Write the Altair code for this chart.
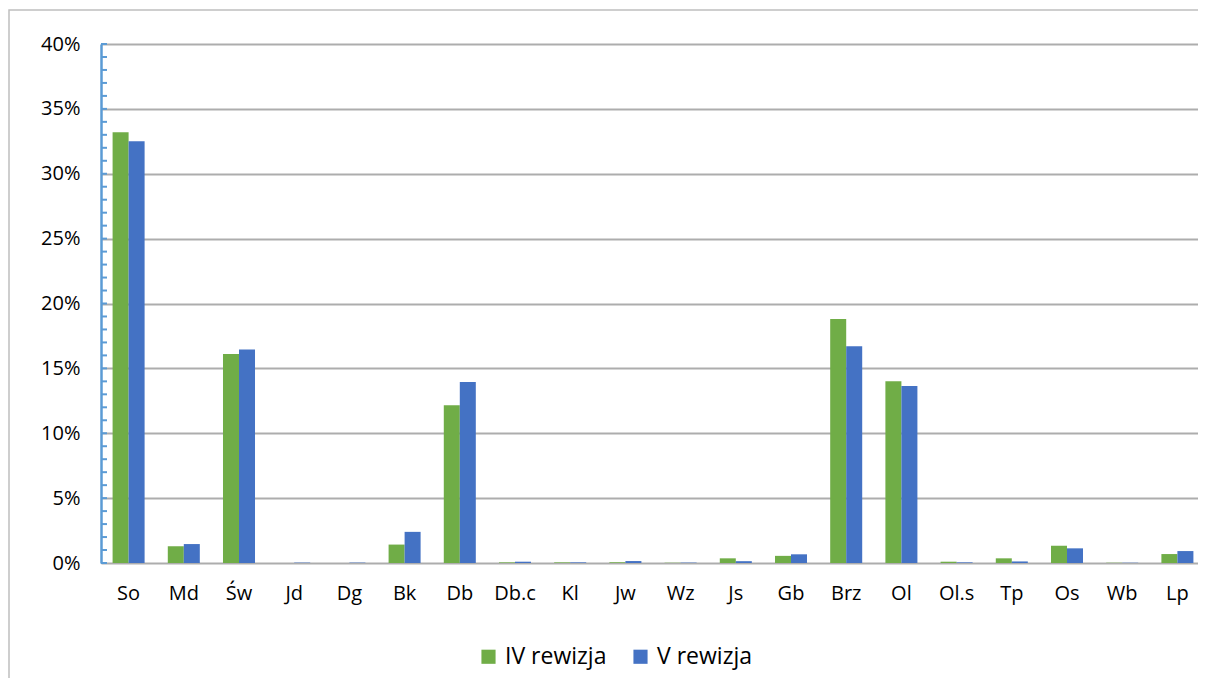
import altair as alt
import pandas as pd

categories = ["So", "Md", "Św", "Jd", "Dg", "Bk", "Db", "Db.c", "Kl", "Jw",
              "Wz", "Js", "Gb", "Brz", "Ol", "Ol.s", "Tp", "Os", "Wb", "Lp"]
series_names = ["IV rewizja", "V rewizja"]
iv_values = [33.2, 1.3, 16.1, 0.0, 0.0, 1.42, 12.15, 0.05, 0.05, 0.05,
             0.02, 0.36, 0.55, 18.8, 14.0, 0.1, 0.36, 1.33, 0.02, 0.69]
v_values = [32.5, 1.46, 16.45, 0.03, 0.03, 2.4, 13.95, 0.1, 0.05, 0.15,
            0.03, 0.14, 0.67, 16.7, 13.65, 0.05, 0.12, 1.13, 0.02, 0.92]
y_ticks = [0, 0.05, 0.10, 0.15, 0.20, 0.25, 0.30, 0.35, 0.40]
minor_ticks = [i / 100 for i in range(0, 41)]

rows = []
for c, a, b in zip(categories, iv_values, v_values):
    rows.append({"cat": c, "series": series_names[0], "value": a / 100})
    rows.append({"cat": c, "series": series_names[1], "value": b / 100})
df = pd.DataFrame(rows)

FONT = "Open Sans"
GREEN = "#70AD47"
BLUE = "#4472C4"
AXIS_BLUE = "#5B9BD5"

yscale = alt.Scale(domain=[0, 0.4], nice=False)

border = alt.Chart(pd.DataFrame({"a": [0]})).mark_rect(
    fill=None, stroke="#BFBFBF", strokeWidth=1.5
).encode(
    x=alt.value(-92), x2=alt.value(1160), y=alt.value(-34), y2=alt.value(720)
)

bars = alt.Chart(df).mark_bar().encode(
    x=alt.X("cat:N", sort=categories, title=None,
            scale=alt.Scale(paddingInner=0.42, paddingOuter=0.21,
                            range=[0, 1104]),
            axis=alt.Axis(labelAngle=0, labelFontSize=20, labelFont=FONT,
                          labelColor="#000000", domain=False, ticks=False,
                          labelPadding=20, grid=False)),
    xOffset=alt.XOffset("series:N", sort=series_names),
    y=alt.Y("value:Q", scale=yscale, title=None,
            axis=alt.Axis(values=y_ticks, format=".0%", labelFontSize=20,
                          labelFont=FONT, labelColor="#000000",
                          labelPadding=21, ticks=False,
                          domain=True, domainColor=AXIS_BLUE, domainWidth=2.5,
                          grid=True, gridColor="#ADADAD", gridWidth=2)),
    color=alt.Color("series:N", sort=series_names,
                    scale=alt.Scale(domain=series_names, range=[GREEN, BLUE]),
                    legend=alt.Legend(orient="none", legendX=376, legendY=601,
                                      direction="horizontal", title=None,
                                      symbolType="square", symbolSize=200,
                                      symbolStrokeWidth=0,
                                      labelFontSize=23, labelFont=FONT,
                                      labelColor="#000000", columnPadding=22,
                                      labelOffset=5)),
)

ticks = alt.Chart(pd.DataFrame({"t": minor_ticks})).mark_rule(
    color=AXIS_BLUE, strokeWidth=2
).encode(
    y=alt.Y("t:Q", scale=yscale),
    x=alt.value(0), x2=alt.value(6)
)

chart = alt.layer(border, bars, ticks).properties(
    width=1097, height=519,
    padding={"left": 93, "top": 36, "right": 0, "bottom": 115},
    autosize=alt.AutoSizeParams(type="none"),
    background="white"
).configure_view(stroke=None)

chart.save("out.html", embed_options={"renderer": "svg", "actions": False})
